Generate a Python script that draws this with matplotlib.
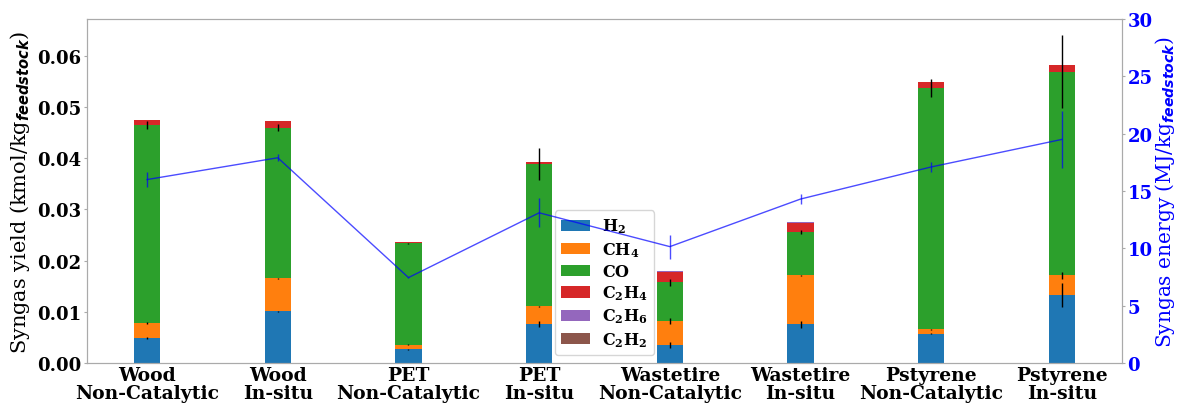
import numpy as np
import matplotlib.pyplot as plt

plt.rcParams['mathtext.fontset'] = 'custom'
plt.rcParams['mathtext.rm'] = 'DejaVu Serif'
plt.rcParams['mathtext.bf'] = 'DejaVu Serif:bold'
plt.rcParams['mathtext.bfit'] = 'DejaVu Sans:italic:bold'

cases = ['Wood\nNon-Catalytic', 'Wood\nIn-situ', 'PET\nNon-Catalytic', 'PET\nIn-situ',
         'Wastetire\nNon-Catalytic', 'Wastetire\nIn-situ', 'Pstyrene\nNon-Catalytic', 'Pstyrene\nIn-situ']
species = [r'$\mathbf{H_2}$', r'$\mathbf{CH_4}$', r'$\mathbf{CO}$',
           r'$\mathbf{C_2H_4}$', r'$\mathbf{C_2H_6}$', r'$\mathbf{C_2H_2}$']

# yields, kmol/kg feedstock
h2 = [0.0048, 0.0101, 0.0027, 0.0076, 0.0036, 0.0076, 0.0057, 0.0133]
ch4 = [0.0031, 0.0065, 0.0009, 0.0035, 0.0046, 0.0095, 0.0009, 0.0038]
co = [0.0386, 0.0294, 0.0198, 0.0278, 0.0076, 0.0085, 0.0471, 0.0398]
c2h4 = [0.0010, 0.0013, 0.0002, 0.0004, 0.0019, 0.0018, 0.0012, 0.0014]
c2h6 = [0.0000, 0.0000, 0.0000, 0.0000, 0.0003, 0.0001, 0.0000, 0.0000]
c2h2 = [0.0000, 0.0000, 0.0000, 0.0000, 0.0000, 0.0000, 0.0000, 0.0000]

h2_err = [0.0002, 0.0001, 0.0001, 0.0006, 0.0006, 0.0007, 0.0001, 0.0024]
ch4_err = [0.0002, 0.0001, 0.0001, 0.0001, 0.0006, 0.0001, 0.0001, 0.0006]
co_err = [0.0008, 0.0006, 0.0001, 0.0032, 0.0007, 0.0004, 0.0017, 0.0071]
c2h4_err = [0.0, 0.0, 0.0, 0.0, 0.0, 0.0, 0.0, 0.0]

# syngas energy, MJ/kg feedstock
energy = [16.0, 17.9, 7.45, 13.1, 10.15, 14.3, 17.1, 19.5]
energy_err = [0.65, 0.3, 0.05, 1.25, 1.05, 0.4, 0.45, 2.45]

fig = plt.figure(figsize=(11.77, 4.06), dpi=100)
ax = fig.add_axes([0.0739, 0.1034, 0.8794, 0.8473])

x = np.arange(len(cases))
width = 0.2
colors = ['tab:blue', 'tab:orange', 'tab:green', 'tab:red', 'tab:purple', 'tab:brown']
vals = [h2, ch4, co, c2h4, c2h6, c2h2]
errs = [h2_err, ch4_err, co_err, c2h4_err, None, None]

bottom = np.zeros(len(cases))
for name, v, e, c in zip(species, vals, errs, colors):
    v = np.array(v)
    ax.bar(x, v, width, bottom=bottom, color=c, label=name)
    if e is not None:
        ax.errorbar(x, bottom + v, yerr=e, fmt='none', ecolor='black', elinewidth=1)
    bottom = bottom + v

ax.set_ylabel(r'Syngas yield (kmol/kg$_{\mathbfit{feedstock}}$)', fontsize=15,
              family='DejaVu Serif', labelpad=4)
ax.set_xticks(x)
ax.set_xticklabels(cases, fontsize=13.5, fontweight='bold', family='DejaVu Serif', linespacing=1.0)
ax.tick_params(axis='x', length=0, pad=2)
ax.tick_params(axis='y', length=2, pad=2, color='#aaaaaa')
for lab in ax.get_yticklabels():
    lab.set_fontsize(13)
    lab.set_fontweight('bold')
    lab.set_family('DejaVu Serif')
for s in ax.spines.values():
    s.set_color('#aaaaaa')

leg = ax.legend(loc='lower center', prop={'size': 11.5},
                handlelength=1.8, labelspacing=0.28)

ax2 = ax.twinx()
ax2.errorbar(x, energy, yerr=energy_err, color='blue', alpha=0.7, lw=1)
ax2.set_ylim(0, 30)
ax2.set_ylabel(r'Syngas energy (MJ/kg$_{\mathbfit{feedstock}}$)', fontsize=14.5,
               family='DejaVu Serif', color='blue', labelpad=0)
ax2.tick_params(axis='y', colors='blue', length=2, pad=2)
ax2.tick_params(axis='y', color='#aaaaaa')
for lab in ax2.get_yticklabels():
    lab.set_fontsize(13)
    lab.set_fontweight('bold')
    lab.set_family('DejaVu Serif')
for s in ax2.spines.values():
    s.set_color('#aaaaaa')

fig.savefig('out.png', dpi=100)
